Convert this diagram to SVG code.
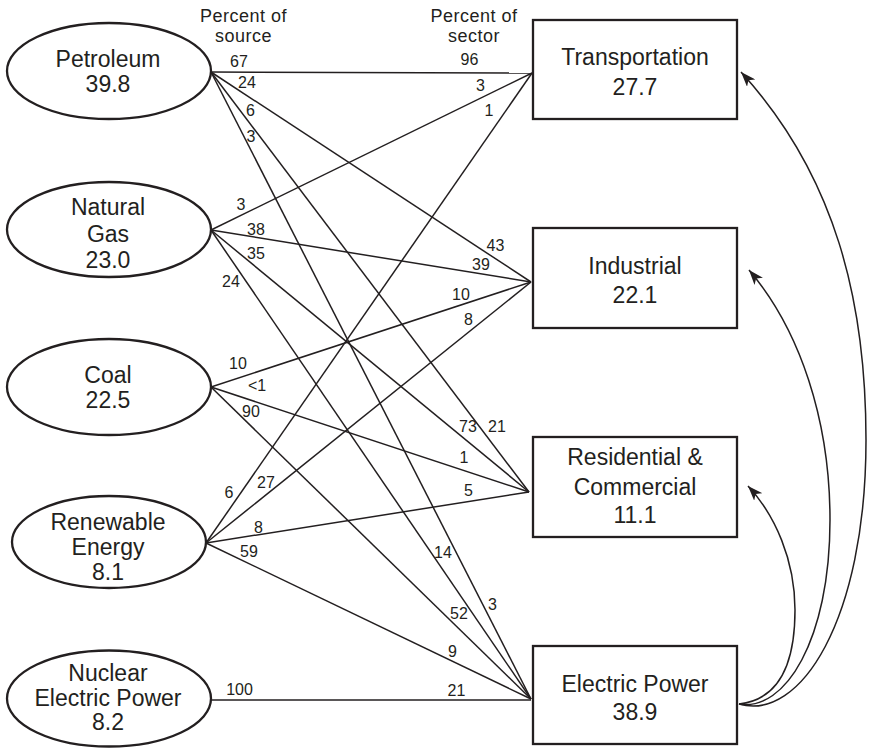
<svg xmlns="http://www.w3.org/2000/svg" width="870" height="748" viewBox="0 0 870 748">
<defs>
<marker id="ah" markerUnits="userSpaceOnUse" markerWidth="17" markerHeight="11" refX="15" refY="5.5" orient="auto"><path d="M0,0 L15,5.5 L0,11 L4,5.5 Z" fill="#231f20"/></marker>
</defs>
<style>
.node ellipse, .node rect {fill:#fff; stroke:#231f20; stroke-width:2.3}
.node text {font-family:"Liberation Sans", Arial, sans-serif; font-size:23px; fill:#231f20; text-anchor:middle}
.edge {stroke:#231f20; stroke-width:1.5; fill:none}
.curve {stroke:#231f20; stroke-width:1.5; fill:none; marker-end:url(#ah)}
.lbl {font-family:"Liberation Sans", Arial, sans-serif; font-size:16px; fill:#231f20; text-anchor:middle}
.hdr {font-size:18px; letter-spacing:0.5px}
</style>
<rect width="870" height="748" fill="#fff"/>
<g id="connectors">
<line class="edge" x1="211" y1="72" x2="532" y2="73"/>
<line class="edge" x1="211" y1="72" x2="531" y2="282"/>
<line class="edge" x1="211" y1="72" x2="529" y2="492"/>
<line class="edge" x1="211" y1="72" x2="531" y2="699"/>
<line class="edge" x1="211" y1="230" x2="532" y2="73"/>
<line class="edge" x1="211" y1="230" x2="531" y2="282"/>
<line class="edge" x1="211" y1="230" x2="529" y2="492"/>
<line class="edge" x1="211" y1="230" x2="531" y2="699"/>
<line class="edge" x1="211" y1="387" x2="531" y2="282"/>
<line class="edge" x1="211" y1="387" x2="529" y2="492"/>
<line class="edge" x1="211" y1="387" x2="531" y2="699"/>
<line class="edge" x1="206" y1="543" x2="532" y2="73"/>
<line class="edge" x1="206" y1="543" x2="531" y2="282"/>
<line class="edge" x1="206" y1="543" x2="529" y2="492"/>
<line class="edge" x1="206" y1="543" x2="531" y2="699"/>
<line class="edge" x1="211" y1="700" x2="531" y2="700"/>
<path class="curve" d="M739,704 C800,722 866,620 866,440 C866,300 835,175 741,72"/>
<path class="curve" d="M739,704 C785,712 830,640 830,520 C830,420 800,330 749,270"/>
<path class="curve" d="M739,704 C775,700 795,670 795,610 C795,560 775,515 748,486"/>
</g>
<g id="labels">
<text class="lbl hdr" x="243.5" y="22">Percent of</text>
<text class="lbl hdr" x="243.5" y="42">source</text>
<text class="lbl hdr" x="474" y="22">Percent of</text>
<text class="lbl hdr" x="474" y="42">sector</text>
<text class="lbl" x="239" y="67">67</text>
<text class="lbl" x="247" y="88">24</text>
<text class="lbl" x="250.5" y="116">6</text>
<text class="lbl" x="251" y="142">3</text>
<text class="lbl" x="469.5" y="65">96</text>
<text class="lbl" x="480.5" y="91">3</text>
<text class="lbl" x="489" y="116">1</text>
<text class="lbl" x="241" y="210">3</text>
<text class="lbl" x="256" y="235">38</text>
<text class="lbl" x="256" y="259">35</text>
<text class="lbl" x="231" y="287">24</text>
<text class="lbl" x="495.5" y="251">43</text>
<text class="lbl" x="481" y="270">39</text>
<text class="lbl" x="461" y="300">10</text>
<text class="lbl" x="468.5" y="325">8</text>
<text class="lbl" x="238" y="369">10</text>
<text class="lbl" x="257" y="391">&lt;1</text>
<text class="lbl" x="251" y="417">90</text>
<text class="lbl" x="468" y="432">73</text>
<text class="lbl" x="497" y="432">21</text>
<text class="lbl" x="464" y="463">1</text>
<text class="lbl" x="468.5" y="496">5</text>
<text class="lbl" x="229" y="498">6</text>
<text class="lbl" x="266" y="488">27</text>
<text class="lbl" x="258.5" y="533">8</text>
<text class="lbl" x="249" y="557">59</text>
<text class="lbl" x="443" y="558">14</text>
<text class="lbl" x="492.5" y="610">3</text>
<text class="lbl" x="459" y="619">52</text>
<text class="lbl" x="452.5" y="657">9</text>
<text class="lbl" x="456.5" y="696">21</text>
<text class="lbl" x="239.5" y="695">100</text>
</g>
<g id="petroleum" class="node">
<ellipse cx="109" cy="71" rx="102" ry="48"/>
<text x="108" y="67">Petroleum</text>
<text x="108" y="92">39.8</text>
</g>
<g id="natural-gas" class="node">
<ellipse cx="109" cy="229.5" rx="102" ry="47.5"/>
<text x="108" y="215">Natural</text>
<text x="108" y="242">Gas</text>
<text x="108" y="268">23.0</text>
</g>
<g id="coal" class="node">
<ellipse cx="109" cy="387" rx="102" ry="48"/>
<text x="108" y="382.5">Coal</text>
<text x="108" y="407.5">22.5</text>
</g>
<g id="renewable" class="node">
<ellipse cx="109" cy="542" rx="97" ry="46"/>
<text x="108" y="530">Renewable</text>
<text x="108" y="555">Energy</text>
<text x="108" y="580">8.1</text>
</g>
<g id="nuclear" class="node">
<ellipse cx="109" cy="698.5" rx="102" ry="48"/>
<text x="108" y="681">Nuclear</text>
<text x="108" y="705.5">Electric Power</text>
<text x="108" y="730">8.2</text>
</g>
<g id="transportation" class="node">
<rect x="533" y="20" width="204" height="99"/>
<text x="635" y="65">Transportation</text>
<text x="635" y="95">27.7</text>
</g>
<g id="industrial" class="node">
<rect x="533" y="228" width="204" height="100"/>
<text x="635" y="274">Industrial</text>
<text x="635" y="303">22.1</text>
</g>
<g id="residential" class="node">
<rect x="533" y="437" width="204" height="100"/>
<text x="635" y="465">Residential &amp;</text>
<text x="635" y="495">Commercial</text>
<text x="635" y="523">11.1</text>
</g>
<g id="electric-power" class="node">
<rect x="533" y="646" width="204" height="98"/>
<text x="635" y="692">Electric Power</text>
<text x="635" y="720">38.9</text>
</g>
</svg>
